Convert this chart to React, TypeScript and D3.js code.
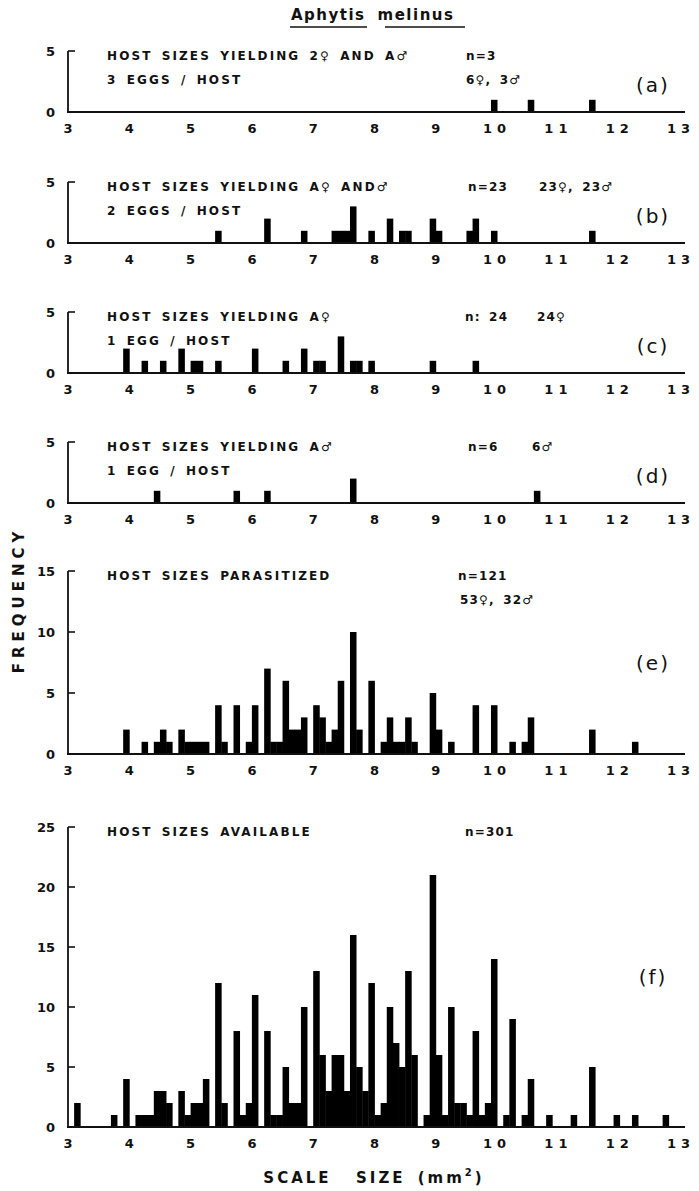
import React from 'react';
import * as d3 from 'd3';

// ---------- DATA (bin start in mm², frequency); bins are 0.1 mm² wide ----------
const xTickValues = [3, 4, 5, 6, 7, 8, 9, 10, 11, 12, 13];
const binWidth = 0.1;

const panelA: [number, number][] = [[9.9, 1], [10.5, 1], [11.5, 1]];

const panelB: [number, number][] = [
  [5.4, 1], [6.2, 2], [6.8, 1], [7.3, 1], [7.4, 1], [7.5, 1], [7.6, 3], [7.9, 1],
  [8.2, 2], [8.4, 1], [8.5, 1], [8.9, 2], [9.0, 1], [9.5, 1], [9.6, 2], [9.9, 1], [11.5, 1],
];

const panelC: [number, number][] = [
  [3.9, 2], [4.2, 1], [4.5, 1], [4.8, 2], [5.0, 1], [5.1, 1], [5.4, 1], [6.0, 2], [6.5, 1],
  [6.8, 2], [7.0, 1], [7.1, 1], [7.4, 3], [7.6, 1], [7.7, 1], [7.9, 1], [8.9, 1], [9.6, 1],
];

const panelD: [number, number][] = [[4.4, 1], [5.7, 1], [6.2, 1], [7.6, 2], [10.6, 1]];

const panelE: [number, number][] = [
  [3.9, 2], [4.2, 1], [4.4, 1], [4.5, 2], [4.6, 1], [4.8, 2], [4.9, 1], [5.0, 1], [5.1, 1],
  [5.2, 1], [5.4, 4], [5.5, 1], [5.7, 4], [5.9, 1], [6.0, 4], [6.2, 7], [6.3, 1], [6.4, 1],
  [6.5, 6], [6.6, 2], [6.7, 2], [6.8, 3], [7.0, 4], [7.1, 3], [7.2, 1], [7.3, 2], [7.4, 6],
  [7.6, 10], [7.7, 2], [7.9, 6], [8.1, 1], [8.2, 3], [8.3, 1], [8.4, 1], [8.5, 3], [8.6, 1],
  [8.9, 5], [9.0, 2], [9.2, 1], [9.6, 4], [9.9, 4], [10.2, 1], [10.4, 1], [10.5, 3],
  [11.5, 2], [12.2, 1],
];

const panelF: [number, number][] = [
  [3.1, 2], [3.7, 1], [3.9, 4], [4.1, 1], [4.2, 1], [4.3, 1], [4.4, 3], [4.5, 3], [4.6, 2],
  [4.8, 3], [4.9, 1], [5.0, 2], [5.1, 2], [5.2, 4], [5.4, 12], [5.5, 2], [5.7, 8], [5.8, 1],
  [5.9, 2], [6.0, 11], [6.2, 8], [6.3, 1], [6.4, 1], [6.5, 5], [6.6, 2], [6.7, 2], [6.8, 10],
  [7.0, 13], [7.1, 6], [7.2, 3], [7.3, 6], [7.4, 6], [7.5, 3], [7.6, 16], [7.7, 5], [7.8, 3],
  [7.9, 12], [8.0, 1], [8.1, 2], [8.2, 10], [8.3, 7], [8.4, 5], [8.5, 13], [8.6, 6], [8.8, 1],
  [8.9, 21], [9.0, 6], [9.1, 1], [9.2, 10], [9.3, 2], [9.4, 2], [9.5, 1], [9.6, 8], [9.7, 1],
  [9.8, 2], [9.9, 14], [10.1, 1], [10.2, 9], [10.4, 1], [10.5, 4], [10.8, 1], [11.2, 1],
  [11.5, 5], [11.9, 1], [12.2, 1], [12.7, 1],
];

const titleWords = ['Aphytis', 'melinus'];
const xAxisTitle = 'SCALE  SIZE (mm';
const yAxisTitle = 'FREQUENCY';

interface Panel {
  data: [number, number][];
  max: number;
  ticks: number[];
  y0: number;
  unit: number;
  line1: string;
  line2?: string;
  n: string;
  nX: number;
  nLine: 1 | 2;
  sex?: string;
  sexX?: number;
  sexLine?: 1 | 2;
  label: string;
  labelDy: number;
}

const panels: Panel[] = [
  { data: panelA, max: 5, ticks: [0, 5], y0: 112, unit: 12.2, line1: 'HOST SIZES YIELDING 2♀ AND A♂', line2: '3 EGGS / HOST', n: 'n=3', nX: 466, nLine: 1, sex: '6♀, 3♂', sexX: 466, sexLine: 2, label: '(a)', labelDy: 34 },
  { data: panelB, max: 5, ticks: [0, 5], y0: 243, unit: 12.2, line1: 'HOST SIZES YIELDING A♀ AND♂', line2: '2 EGGS / HOST', n: 'n=23', nX: 468, nLine: 1, sex: '23♀, 23♂', sexX: 539, sexLine: 1, label: '(b)', labelDy: 34 },
  { data: panelC, max: 5, ticks: [0, 5], y0: 373, unit: 12.2, line1: 'HOST SIZES YIELDING A♀', line2: '1 EGG / HOST', n: 'n: 24', nX: 465, nLine: 1, sex: '24♀', sexX: 537, sexLine: 1, label: '(c)', labelDy: 34 },
  { data: panelD, max: 5, ticks: [0, 5], y0: 503, unit: 12.2, line1: 'HOST SIZES YIELDING A♂', line2: '1 EGG / HOST', n: 'n=6', nX: 468, nLine: 1, sex: '6♂', sexX: 532, sexLine: 1, label: '(d)', labelDy: 34 },
  { data: panelE, max: 15, ticks: [0, 5, 10, 15], y0: 754, unit: 12.2, line1: 'HOST SIZES PARASITIZED', n: 'n=121', nX: 458, nLine: 1, sex: '53♀, 32♂', sexX: 460, sexLine: 2, label: '(e)', labelDy: 92 },
  { data: panelF, max: 25, ticks: [0, 5, 10, 15, 20, 25], y0: 1127, unit: 12.0, line1: 'HOST SIZES AVAILABLE', n: 'n=301', nX: 465, nLine: 1, label: '(f)', labelDy: 150 },
];

const FONT = "'DejaVu Sans', sans-serif";
const INK = '#111';

function HistPanel({ p, x }: { p: Panel; x: d3.ScaleLinear<number, number> }) {
  const top = p.y0 - p.max * p.unit;
  const y = d3.scaleLinear().domain([0, p.max]).range([p.y0, top]);
  const axisX = x(3);
  const line1Y = top + 5;
  const line2Y = top + 29;
  const textProps = { fontFamily: FONT, fontSize: 12, fontWeight: 'bold', letterSpacing: 2.1, wordSpacing: 3, fill: INK, dy: '0.35em' };
  return (
    <g>
      {p.data.map(([v, c], i) => (
        <rect
          key={i}
          x={x(v)}
          width={x(v + binWidth) - x(v) + 0.4}
          y={y(c)}
          height={y(0) - y(c)}
          fill="#000"
        />
      ))}
      <line x1={axisX} x2={axisX} y1={y(p.max)} y2={y(0)} stroke={INK} strokeWidth={1.8} />
      {p.ticks.filter((t) => t > 0).map((t) => (
        <line key={t} x1={axisX} x2={axisX + 7} y1={y(t)} y2={y(t)} stroke={INK} strokeWidth={1.6} />
      ))}
      {p.ticks.map((t) => (
        <text key={'l' + t} x={axisX - 13} y={y(t)} dy="0.35em" textAnchor="end" fontFamily={FONT} fontSize={13} fontWeight="bold" fill={INK}>
          {t}
        </text>
      ))}
      <line x1={axisX - 1} x2={x(13) + 4} y1={y(0)} y2={y(0)} stroke={INK} strokeWidth={1.8} />
      {xTickValues.map((t) => (
        <text key={'x' + t} x={x(t)} y={y(0) + 21} textAnchor="middle" fontFamily={FONT} fontSize={13} fontWeight="bold" letterSpacing={t >= 10 ? 5 : 0} fill={INK}>
          {t}
        </text>
      ))}
      <text x={107} y={line1Y} {...textProps}>{p.line1}</text>
      {p.line2 && <text x={107} y={line2Y} {...textProps}>{p.line2}</text>}
      <text x={p.nX} y={p.nLine === 1 ? line1Y : line2Y} {...textProps} letterSpacing={1.2}>
        {p.n}
      </text>
      {p.sex && (
        <text x={p.sexX} y={p.sexLine === 1 ? line1Y : line2Y} {...textProps} letterSpacing={1.2}>
          {p.sex}
        </text>
      )}
      <text x={653} y={top + p.labelDy} dy="0.35em" textAnchor="middle" fontFamily={FONT} fontSize={20} letterSpacing={2} fill={INK}>
        {p.label}
      </text>
    </g>
  );
}

export default function App() {
  const width = 699;
  const height = 1191;
  const x = d3.scaleLinear().domain([3, 13]).range([68, 681]);
  return (
    <svg width={width} height={height} style={{ position: 'absolute', left: 0, top: 0, background: '#fff' }}>
      <rect width={width} height={height} fill="#fff" />
      <text x={291} y={15} dy="0.35em" fontFamily={FONT} fontSize={15} fontWeight="bold" letterSpacing={1.5} fill={INK}>
        <tspan>{titleWords[0]}</tspan>
        <tspan dx={12}>{titleWords[1]}</tspan>
      </text>
      <line x1={290} x2={367} y1={27} y2={27} stroke={INK} strokeWidth={1.4} />
      <line x1={385} x2={465} y1={27} y2={27} stroke={INK} strokeWidth={1.4} />
      {panels.map((p, i) => (
        <HistPanel key={i} p={p} x={x} />
      ))}
      <text x={19} y={600} transform="rotate(-90 19 600)" textAnchor="middle" dy="0.35em" fontFamily={FONT} fontSize={15} fontWeight="bold" letterSpacing={5} fill={INK}>
        {yAxisTitle}
      </text>
      <text x={374} y={1183} textAnchor="middle" fontFamily={FONT} fontSize={15} fontWeight="bold" letterSpacing={3} wordSpacing={4} fill={INK} style={{ whiteSpace: 'pre' }}>
        {xAxisTitle}
        <tspan dy={-7} fontSize={10}>2</tspan>
        <tspan dy={7}>)</tspan>
      </text>
    </svg>
  );
}
